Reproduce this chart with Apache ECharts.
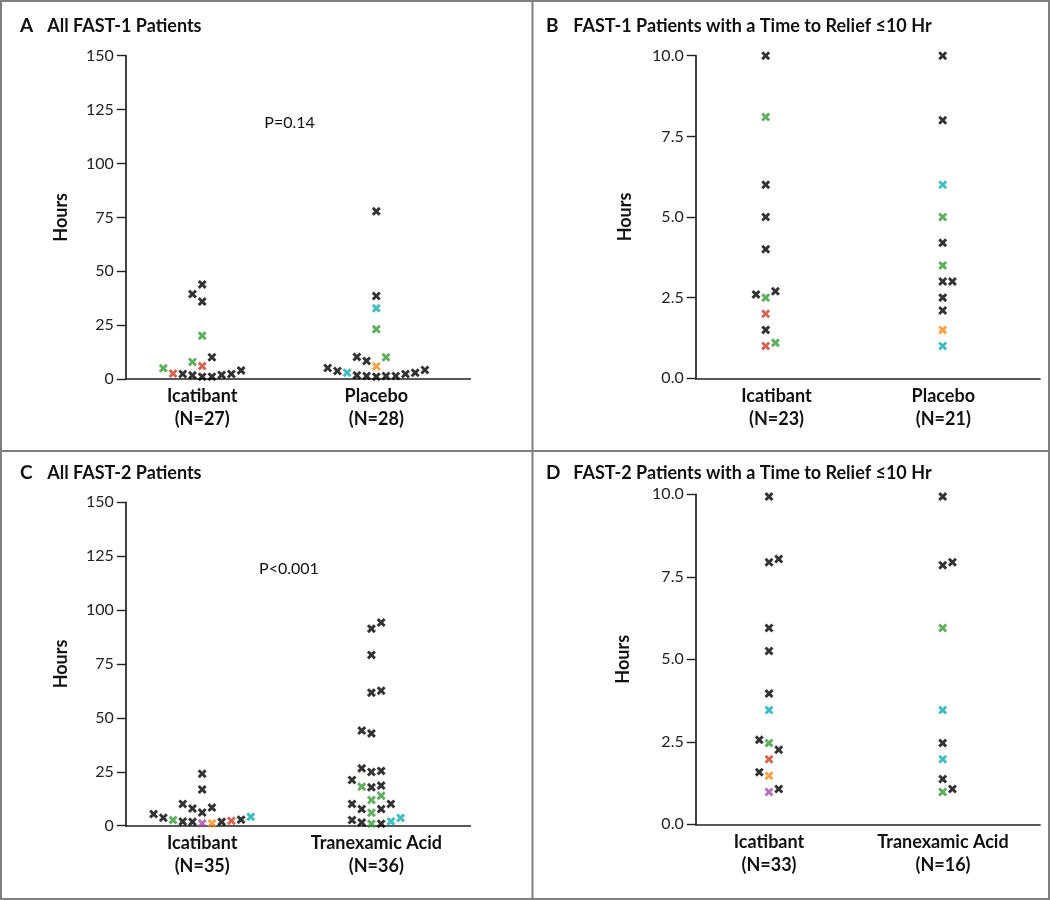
<!DOCTYPE html>
<html>
<head>
<meta charset="utf-8">
<script src="https://cdn.jsdelivr.net/npm/echarts@6/dist/echarts.min.js"></script>
<style>html,body{margin:0;padding:0;background:#fff;}#c{width:1050px;height:900px;}</style>
</head>
<body>
<div id="c"></div>
<script>
// ---- DATA: each point is [jitter slot, hours, colour key] ----
// colour keys: k black, g green, r red, o orange, t teal, p purple
const A_icatibant = [[-4,5.0,'g'],[-3,2.5,'r'],[-2,2.3,'k'],[-1,1.7,'k'],[0,1.1,'k'],[1,1.1,'k'],[2,1.9,'k'],[3,2.3,'k'],[4,4.0,'k'],
  [-1,7.9,'g'],[0,6.0,'r'],[1,10.1,'k'],[0,20.1,'g'],[-1,39.4,'k'],[0,43.9,'k'],[0,35.9,'k']];
const A_placebo = [[-5,5.1,'k'],[-4,3.7,'k'],[-3,2.9,'t'],[-2,1.7,'k'],[-1,1.4,'k'],[0,1.1,'k'],[1,1.4,'k'],[2,1.4,'k'],[3,2.3,'k'],[4,2.9,'k'],[5,4.2,'k'],
  [-2,10.2,'k'],[-1,8.4,'k'],[0,5.9,'o'],[1,10.1,'g'],[0,23.1,'g'],[0,32.8,'t'],[0,38.5,'k'],[0,77.8,'k']];
const B_icatibant = [[0,10,'k'],[0,8.1,'g'],[0,6,'k'],[0,5,'k'],[0,4,'k'],[-1,2.6,'k'],[0,2.5,'g'],[1,2.7,'k'],[0,2.0,'r'],[0,1.5,'k'],[0,1.0,'r'],[1,1.1,'g']];
const B_placebo = [[0,10,'k'],[0,8,'k'],[0,6,'t'],[0,5,'g'],[0,4.2,'k'],[0,3.5,'g'],[0,3,'k'],[1,3,'k'],[0,2.5,'k'],[0,2.1,'k'],[0,1.5,'o'],[0,1.0,'t']];
const C_icatibant = [[-5,5.4,'k'],[-4,3.7,'k'],[-3,2.6,'g'],[-2,1.9,'k'],[-1,1.8,'k'],[0,1.1,'p'],[1,1.1,'o'],[2,1.8,'k'],[3,2.3,'r'],[4,2.8,'k'],[5,4.1,'t'],
  [-2,10.1,'k'],[-1,8.0,'k'],[0,6.1,'k'],[1,8.4,'k'],[0,16.8,'k'],[0,24.1,'k']];
const C_tranexamic = [[-2.5,2.6,'k'],[-1.5,1.5,'k'],[-0.5,0.9,'g'],[0.5,0.9,'k'],[1.5,2.0,'t'],[2.5,3.6,'t'],
  [-2.5,10.1,'k'],[-1.5,7.7,'k'],[-0.5,6.0,'g'],[0.5,7.7,'k'],[1.5,10.1,'k'],[-0.5,11.9,'g'],[0.5,13.9,'g'],
  [-1.5,18.1,'g'],[-0.5,17.8,'k'],[0.5,18.6,'k'],[-2.5,21.2,'k'],[-1.5,26.6,'k'],[-0.5,24.9,'k'],[0.5,25.4,'k'],
  [-1.5,44.1,'k'],[-0.5,42.8,'k'],[-0.5,61.7,'k'],[0.5,62.6,'k'],[-0.5,79.2,'k'],[-0.5,91.4,'k'],[0.5,94.2,'k']];
const D_icatibant = [[0,9.93,'k'],[0,7.94,'k'],[1,8.04,'k'],[0,5.95,'k'],[0,5.25,'k'],[0,3.96,'k'],[0,3.46,'t'],[-1,2.56,'k'],[0,2.46,'g'],
  [1,2.26,'k'],[0,1.97,'r'],[-1,1.58,'k'],[0,1.47,'o'],[0,0.98,'p'],[1,1.07,'k']];
const D_tranexamic = [[0,9.93,'k'],[0,7.85,'k'],[1,7.94,'k'],[0,5.95,'g'],[0,3.46,'t'],[0,2.46,'k'],[0,1.97,'t'],[0,1.37,'k'],[0,0.98,'g'],[1,1.07,'k']];

const panelLetters = ['A','B','C','D'];
const panelTitles = ['All FAST-1 Patients','FAST-1 Patients with a Time to Relief \u226410 Hr','All FAST-2 Patients','FAST-2 Patients with a Time to Relief \u226410 Hr'];
const groupLabels = [['Icatibant\n(N=27)','Placebo\n(N=28)'],['Icatibant\n(N=23)','Placebo\n(N=21)'],['Icatibant\n(N=35)','Tranexamic Acid\n(N=36)'],['Icatibant\n(N=33)','Tranexamic Acid\n(N=16)']];
const pValues = ['P=0.14', null, 'P<0.001', null];

// ---- LAYOUT / STYLE ----
const COLORS = {k:'#000000', g:'#3a983a', r:'#c8402a', o:'#f28c1a', t:'#16acac', p:'#a04ea8'};
const STEP = 9.72; // px per jitter slot (x axis unit = px)
const grids = [
  {left:125.8, top:55.7, width:344.5, height:323.3},
  {left:695.7, top:55.7, width:344.3, height:322.6},
  {left:125.8, top:502.3, width:344.5, height:323.4},
  {left:695.7, top:494.3, width:344.3, height:330}
];
const colCenters = [[76.4,250.5],[70,247],[76.4,250.5],[73.3,247]];
const labelCenters = [[76.4,250.5],[80.8,247.6],[76.4,250.5],[73.3,247.3]];
const panelData = [[A_icatibant,A_placebo],[B_icatibant,B_placebo],[C_icatibant,C_tranexamic],[D_icatibant,D_tranexamic]];
const yConf = [
  {max:150, interval:25, fmt:v=>String(v)},
  {max:10, interval:2.5, fmt:v=>v.toFixed(1)},
  {max:150, interval:25, fmt:v=>String(v)},
  {max:10, interval:2.5, fmt:v=>v.toFixed(1)}
];
const nameGaps = [56, 62, 56, 64];
const FONT = 'Lato';
const XSYM = 'path://M2.3,0L5,2.7L7.7,0L10,2.3L7.3,5L10,7.7L7.7,10L5,7.3L2.3,10L0,7.7L2.7,5L0,2.3Z';

const xAxes = [], yAxes = [], series = [];
for (let i = 0; i < 4; i++) {
  const lc = labelCenters[i], gl = groupLabels[i];
  xAxes.push({
    type:'value', gridIndex:i, min:0, max:grids[i].width,
    axisLine:{show:true, onZero:false, lineStyle:{color:'#222', width:1.7}},
    axisTick:{show:false}, splitLine:{show:false},
    axisLabel:{show:true, customValues:lc, margin:6, fontFamily:FONT, fontWeight:'bold', fontSize:18, color:'#111', lineHeight:23,
      formatter:(v)=>{ const d0=Math.abs(v-lc[0]), d1=Math.abs(v-lc[1]); return d0<d1?gl[0]:gl[1]; }}
  });
  yAxes.push({
    type:'value', gridIndex:i, min:0, max:yConf[i].max, interval:yConf[i].interval,
    name:'Hours', nameLocation:'middle', nameRotate:90, nameGap:nameGaps[i],
    nameTextStyle:{fontFamily:FONT, fontWeight:'bold', fontSize:18, color:'#111'},
    axisLine:{show:true, lineStyle:{color:'#222', width:1.7}},
    axisTick:{show:true, length:9, lineStyle:{color:'#222', width:1.4}},
    splitLine:{show:false},
    axisLabel:{margin:12, fontFamily:FONT, fontSize:16, color:'#222', formatter:yConf[i].fmt}
  });
  const data = [];
  panelData[i].forEach((grp, gi) => {
    grp.forEach(p => {
      data.push({value:[colCenters[i][gi] + p[0]*STEP, p[1]], itemStyle:{color:COLORS[p[2]]}});
    });
  });
  series.push({type:'scatter', xAxisIndex:i, yAxisIndex:i, symbol:XSYM, symbolSize:9, data:data, silent:true, animation:false});
}

const graphics = [
  {type:'rect', shape:{x:1, y:1, width:1048, height:898}, style:{fill:'none', stroke:'#7f7f7f', lineWidth:2}},
  {type:'line', shape:{x1:532.5, y1:0, x2:532.5, y2:900}, style:{stroke:'#7f7f7f', lineWidth:2}},
  {type:'line', shape:{x1:0, y1:451, x2:1050, y2:451}, style:{stroke:'#7f7f7f', lineWidth:2}}
];
const letterPos = [[20,26],[546,26],[20,473],[546,473]];
const titleX = [47.3, 573.3, 47.3, 573.3];
for (let i = 0; i < 4; i++) {
  graphics.push({type:'text', x:letterPos[i][0], y:letterPos[i][1], style:{text:panelLetters[i], font:'bold 19px '+FONT, fill:'#111', verticalAlign:'middle'}});
  graphics.push({type:'text', x:titleX[i], y:letterPos[i][1], style:{text:panelTitles[i], font:'bold 18px '+FONT, fill:'#111', verticalAlign:'middle'}});
}
const pPos = [[289.6,122.7],null,[289,569],null];
pValues.forEach((p,i)=>{ if(p) graphics.push({type:'text', x:pPos[i][0], y:pPos[i][1], style:{text:p, font:'16px '+FONT, fill:'#111', align:'center', verticalAlign:'middle'}}); });

const chart = echarts.init(document.getElementById('c'), null, {renderer:'canvas'});
chart.setOption({
  animation:false,
  backgroundColor:'#fff',
  grid:grids,
  xAxis:xAxes, yAxis:yAxes, series:series, graphic:graphics
});
</script>
</body>
</html>
